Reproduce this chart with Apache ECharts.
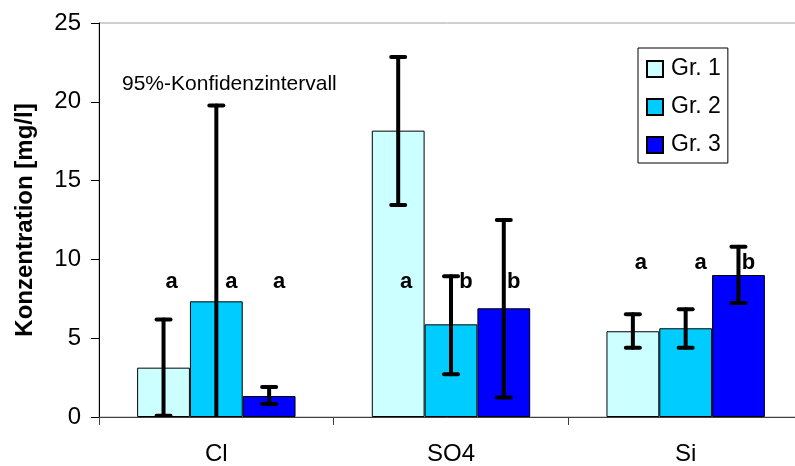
<!DOCTYPE html>
<html>
<head>
<meta charset="utf-8">
<script src="https://cdn.jsdelivr.net/npm/echarts@6/dist/echarts.min.js"></script>
<style>
  html, body { margin: 0; padding: 0; background: #fff; }
  #chart { width: 795px; height: 466px; }
</style>
</head>
<body>
<div id="chart"></div>
<script>
// Data
const categories = ['Cl', 'SO4', 'Si'];
const groupNames = ['Gr. 1', 'Gr. 2', 'Gr. 3'];

const meanGr1 = [3.13, 18.17, 5.44];
const meanGr2 = [7.34, 5.88, 5.63];
const meanGr3 = [1.33, 6.9, 9.01];

// 95% confidence interval bounds
const lowGr1 = [0.08, 13.45, 4.4];
const highGr1 = [6.18, 22.84, 6.52];
const lowGr2 = [-5.08, 2.71, 4.4];
const highGr2 = [19.76, 8.93, 6.83];
const lowGr3 = [0.82, 1.23, 7.23];
const highGr3 = [1.9, 12.5, 10.81];

// significance letters and the height they sit at per category
const lettersGr1 = ['a', 'a', 'a'];
const lettersGr2 = ['a', 'b', 'a'];
const lettersGr3 = ['a', 'b', 'b'];
const letterLevel = [8.6, 8.6, 9.75];

const yTicks = [0, 5, 10, 15, 20, 25];

const colors = ['#ccffff', '#00ccff', '#0000ff'];
const FONT = '"Liberation Sans", Arial, sans-serif';
const BAR_W = 0.225; // share of category width

const chart = echarts.init(document.getElementById('chart'));

function errorSeries(g, low, high, letters) {
  return {
    type: 'custom',
    z: 5,
    clip: true,
    data: categories.map((c, i) => [i, low[i], high[i], letterLevel[i]]),
    renderItem: (params, api) => {
      const i = api.value(0);
      const bw = api.size([1, 0])[0] * BAR_W;
      const x = api.coord([i, 0])[0] + (g - 1) * bw;
      const yLo = api.coord([i, api.value(1)])[1];
      const yHi = api.coord([i, api.value(2)])[1];
      const yTxt = api.coord([i, api.value(3)])[1];
      const lineStyle = { stroke: '#000', lineWidth: 4, lineCap: 'round' };
      const txtDx = [8, 15, 10][g];
      return {
        type: 'group',
        children: [
          { type: 'line', shape: { x1: x, y1: yLo, x2: x, y2: yHi }, style: lineStyle },
          { type: 'line', shape: { x1: x - 7, y1: yHi, x2: x + 7, y2: yHi }, style: lineStyle },
          { type: 'line', shape: { x1: x - 7, y1: yLo, x2: x + 7, y2: yLo }, style: lineStyle },
          {
            type: 'text',
            silent: true,
            style: {
              x: x + txtDx, y: yTxt, text: letters[i],
              fill: '#000', font: 'bold 22px ' + FONT,
              align: 'center', verticalAlign: 'middle'
            }
          }
        ]
      };
    }
  };
}

const means = [meanGr1, meanGr2, meanGr3];

const option = {
  animation: false,
  textStyle: { fontFamily: FONT },
  grid: {
    left: 99,
    top: 23,
    width: 704,
    bottom: 49,
    outerBoundsMode: 'none',
    containLabel: false,
    show: true,
    borderColor: '#a0a0a0',
    borderWidth: 1
  },
  legend: {
    data: groupNames,
    orient: 'vertical',
    left: 638,
    top: 48,
    padding: [9, 7, 6, 8],
    itemWidth: 16,
    itemHeight: 16,
    itemGap: 14,
    icon: 'rect',
    borderColor: '#000',
    borderWidth: 1,
    backgroundColor: '#fff',
    textStyle: { fontSize: 23, lineHeight: 24, color: '#000', padding: [0, 0, 0, 3] }
  },
  graphic: [{
    type: 'text',
    left: 122,
    top: 74,
    style: { text: '95%-Konfidenzintervall', font: '21px ' + FONT, fill: '#000' }
  }],
  xAxis: {
    type: 'category',
    data: categories,
    axisLine: { lineStyle: { color: '#404040', width: 1 } },
    axisTick: { show: true, length: 8, lineStyle: { color: '#404040' } },
    axisLabel: { fontSize: 24, color: '#000', margin: 25 }
  },
  yAxis: {
    type: 'value',
    min: 0,
    max: 25,
    interval: 5,
    name: 'Konzentration [mg/l]',
    nameLocation: 'middle',
    nameGap: 62,
    nameTextStyle: { fontSize: 24, fontWeight: 'bold', color: '#000' },
    axisLine: { show: true, lineStyle: { color: '#000', width: 1 } },
    axisTick: { show: true, length: 8, lineStyle: { color: '#000' } },
    axisLabel: {
      fontSize: 24, color: '#000', margin: 18,
      formatter: v => (yTicks.includes(v) ? String(v) : '')
    },
    splitLine: { show: false }
  },
  series: [
    ...groupNames.map((name, g) => ({
      name: name,
      type: 'bar',
      barWidth: (BAR_W * 100) + '%',
      barGap: '0%',
      itemStyle: { color: colors[g], borderColor: '#000', borderWidth: 1 },
      data: means[g]
    })),
    errorSeries(0, lowGr1, highGr1, lettersGr1),
    errorSeries(1, lowGr2, highGr2, lettersGr2),
    errorSeries(2, lowGr3, highGr3, lettersGr3)
  ]
};

chart.setOption(option);
</script>
</body>
</html>
